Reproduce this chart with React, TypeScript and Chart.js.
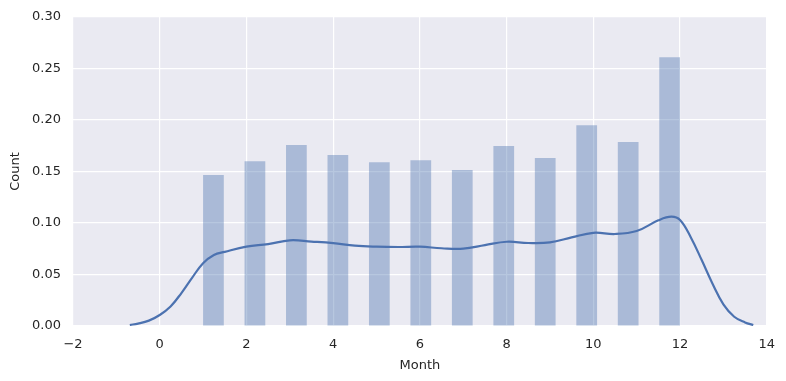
import React, { useEffect, useRef } from "react";
import { Chart, registerables } from "chart.js";

Chart.register(...registerables);

// Histogram: 23 equal bins between the min and max month; each month lands in every other bin
const binStart = 1;
const binEnd = 12;
const binCount = 23;
const months = [1, 2, 3, 4, 5, 6, 7, 8, 9, 10, 11, 12];
const monthBinIndex = [0, 2, 4, 6, 8, 10, 12, 14, 16, 18, 20, 22];
const monthDensity = [0.1466, 0.160, 0.1757, 0.166, 0.159, 0.161, 0.1515, 0.1748, 0.163, 0.195, 0.1786, 0.261];

// KDE curve
const kdeX = [-0.69, -0.5, -0.25, 0, 0.25, 0.5, 0.75, 1, 1.25, 1.5, 2, 2.5, 3, 3.5, 4, 4.5, 5, 5.5, 6, 6.5, 7, 7.5, 8, 8.5, 9, 9.5, 10, 10.5, 11, 11.5, 11.8, 12, 12.25, 12.5, 12.75, 13, 13.25, 13.5, 13.69];
const kdeY = [0.001, 0.0023, 0.0052, 0.0107, 0.019, 0.032, 0.047, 0.061, 0.069, 0.072, 0.077, 0.0795, 0.0832, 0.082, 0.0805, 0.078, 0.077, 0.0767, 0.077, 0.0755, 0.0751, 0.0785, 0.0818, 0.0806, 0.0812, 0.086, 0.0905, 0.0893, 0.0922, 0.1026, 0.1061, 0.1029, 0.086, 0.064, 0.041, 0.021, 0.009, 0.0035, 0.001];

const xMin = -2;
const xMax = 14;
const xStep = 2;
const yMin = 0;
const yMax = 0.3;
const yStep = 0.05;
const xTitle = "Month";
const yTitle = "Count";

const FONT = "'DejaVu Sans', sans-serif";
const TEXT = "#262626";

export default function App() {
  const ref = useRef<HTMLCanvasElement>(null);

  useEffect(() => {
    const canvas = ref.current;
    if (!canvas) return;
    const binWidth = (binEnd - binStart) / binCount;
    const barData = months.map((_, i) => ({
      x: binStart + (monthBinIndex[i] + 0.5) * binWidth,
      y: monthDensity[i],
    }));
    const lineData = kdeX.map((x, i) => ({ x, y: kdeY[i] }));

    const bgPlugin = {
      id: "plotBg",
      beforeDraw(chart: any) {
        const { ctx, chartArea } = chart;
        ctx.save();
        ctx.fillStyle = "#EAEAF2";
        ctx.fillRect(chartArea.left, chartArea.top, chartArea.right - chartArea.left, chartArea.bottom - chartArea.top);
        ctx.restore();
      },
    };

    const chart = new Chart(canvas, {
      type: "bar",
      data: {
        datasets: [
          {
            type: "line",
            data: lineData,
            borderColor: "#4C72B0",
            borderWidth: 2.2,
            pointRadius: 0,
            tension: 0.4,
            fill: false,
            order: 0,
          } as any,
          {
            type: "bar",
            data: barData,
            backgroundColor: "rgba(76,114,176,0.4)",
            borderWidth: 0,
            barPercentage: 0.5,
            categoryPercentage: 1,
            grouped: false,
            order: 1,
          } as any,
        ],
      },
      options: {
        responsive: false,
        animation: false,
        layout: { padding: { left: 0, right: 18, top: 17, bottom: 0 } },
        plugins: { legend: { display: false }, tooltip: { enabled: false } },
        scales: {
          x: {
            type: "linear",
            min: xMin,
            max: xMax,
            offset: false,
            grid: { color: "#FFFFFF", lineWidth: 1.2, drawTicks: false, offset: false },
            border: { display: false },
            ticks: {
              stepSize: xStep,
              padding: 11,
              color: TEXT,
              font: { family: FONT, size: 13 },
              callback: (v: any) => (v < 0 ? "\u2212" + Math.abs(v) : String(v)),
            },
            title: {
              display: true,
              text: xTitle,
              color: TEXT,
              font: { family: FONT, size: 13 },
              padding: { top: 0, bottom: 8 },
            },
            afterFit: (s: any) => {
              s.height = 55;
            },
          },
          y: {
            type: "linear",
            min: yMin,
            max: yMax,
            grid: { color: "#FFFFFF", lineWidth: 1.2, drawTicks: false },
            border: { display: false },
            ticks: {
              stepSize: yStep,
              padding: 12,
              color: TEXT,
              font: { family: FONT, size: 13 },
              callback: (v: any) => Number(v).toFixed(2),
            },
            title: {
              display: true,
              text: yTitle,
              color: TEXT,
              font: { family: FONT, size: 13 },
              padding: { top: 8, bottom: 0 },
            },
            afterFit: (s: any) => {
              s.width = 73;
              s.paddingTop = 0;
              s.paddingBottom = 0;
            },
          },
        },
      },
      plugins: [bgPlugin],
    });
    return () => chart.destroy();
  }, []);

  return (
    <div style={{ position: "fixed", left: 0, top: 0, width: 786, height: 381, background: "#fff" }}>
      <canvas ref={ref} width={786} height={381} style={{ display: "block" }} />
    </div>
  );
}
